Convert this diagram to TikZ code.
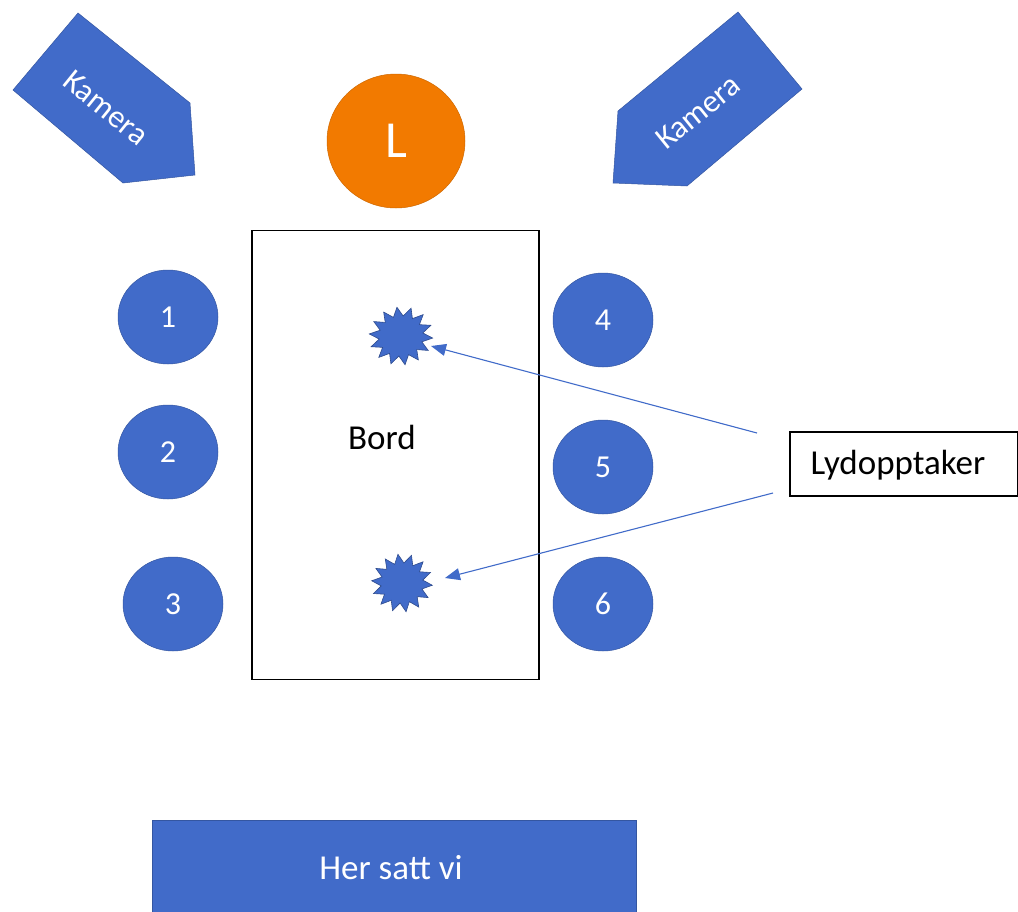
\documentclass[tikz,border=0pt]{standalone}
\usepackage{fontspec}
\setmainfont{Carlito}
\usetikzlibrary{shapes.geometric,arrows.meta}
\definecolor{obl}{HTML}{416BC9}
\definecolor{oor}{HTML}{F27A00}
\begin{document}
\begin{tikzpicture}[x=1pt,y=-1pt,
  seat/.style={ellipse,fill=obl,draw=obl!80!black,line width=0.5pt,minimum width=100pt,minimum height=94pt,text=white,font=\fontsize{32}{38}\selectfont},
  cam/.style={fill=obl,draw=obl!80!black,line width=0.5pt},
  camtext/.style={text=white,font=\fontsize{32}{38}\selectfont},
  mic/.style={star,star points=14,star point ratio=1.45,fill=obl,draw=obl!70!black,line width=0.6pt,minimum size=58pt,inner sep=0pt},
  lbl/.style={font=\fontsize{35}{42}\selectfont},
  ptr/.style={draw=obl,line width=1.1pt,-{Triangle[length=15pt,width=12pt]}}]
\useasboundingbox (0,0) rectangle (1018,911);
% cameras
\draw[cam] (78,13) -- (13,90) -- (123,183) -- (195,175) -- (190,103) -- cycle;
\node[camtext,rotate=-39] (kam1) at (106,108) {Kamera};
\draw[cam] (738,12) -- (802,89) -- (687,186) -- (613,183) -- (618,111) -- cycle;
\node[camtext,rotate=39] (kam2) at (698,112) {Kamera};
% leader
\node[ellipse,fill=oor,draw=oor!85!black,line width=0.5pt,minimum width=138pt,minimum height=134pt,text=white,font=\fontsize{52}{62}\selectfont] (L) at (396,141) {L};
% table
\node[draw=black,line width=1.8pt,minimum width=287pt,minimum height=449pt,inner sep=0pt] (bord) at (395.5,455) {};
\node[lbl] (bordtxt) at (382,437) {Bord};
% seats
\node[seat] (s1) at (168,317) {1};
\node[seat] (s2) at (168,452) {2};
\node[seat] (s3) at (173,604) {3};
\node[seat] (s4) at (603,320) {4};
\node[seat] (s5) at (603,467) {5};
\node[seat] (s6) at (603,604) {6};
% microphones
\node[mic,rotate=8,xscale=1.1] (m1) at (401,336) {};
\node[mic,rotate=8,xscale=1.05] (m2) at (402,583) {};
% recorder label
\node[draw=black,line width=1.5pt,minimum width=228pt,minimum height=64pt,inner sep=0pt,anchor=west] (rec) at (789,464) {};
\node[lbl] (rectxt) at (898,465) {Lydopptaker};
\coordinate (r1) at (757,433);
\coordinate (r2) at (773,493);
\draw[ptr] (r1) -- (431,346);
\draw[ptr] (r2) -- (445,578);
% bottom bar
\node[fill=obl,draw=obl!80!black,line width=0.5pt,minimum width=484pt,minimum height=100pt,inner sep=0pt,anchor=north west] (her) at (152,820) {};
\node[lbl,text=white] (hertxt) at (391,868) {Her satt vi};
\end{tikzpicture}
\end{document}
